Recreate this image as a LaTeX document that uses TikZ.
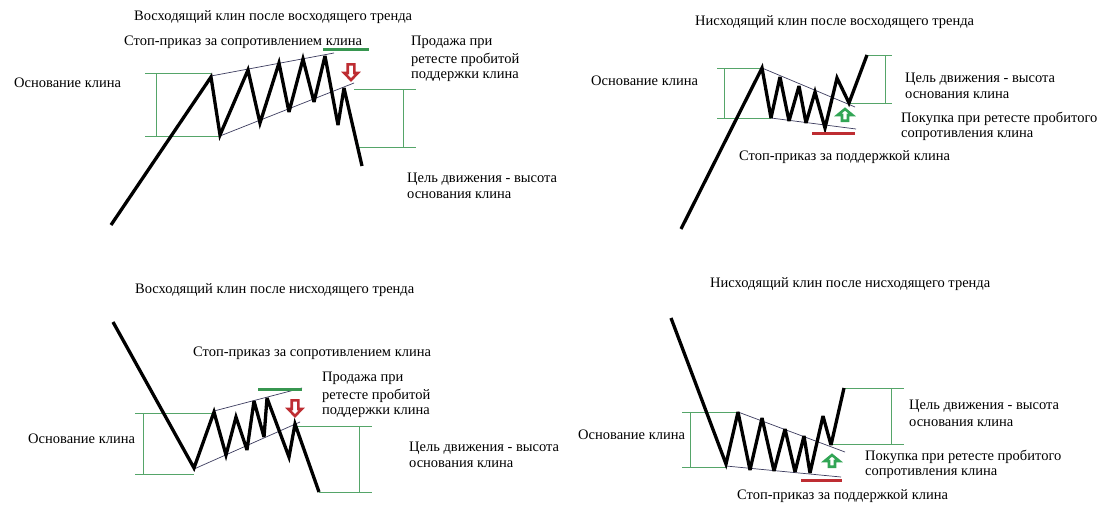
\documentclass[tikz,border=0pt]{standalone}
\usepackage{fontspec}
\setmainfont{Liberation Serif}
\definecolor{brk}{RGB}{85,165,105}
\definecolor{gbar}{RGB}{55,150,80}
\definecolor{redc}{RGB}{190,45,50}
\definecolor{wedge}{RGB}{60,60,95}
\definecolor{garr}{RGB}{50,165,85}
\tikzset{
  price/.style={line width=3.3pt, line join=miter, miter limit=4},
  wedgeline/.style={wedge, line width=0.7pt},
  bracket/.style={brk, line width=0.9pt},
  stopbar/.style={line width=3pt},
  txt/.style={inner sep=0pt, anchor=west, font=\fontsize{14.5}{16}\selectfont},
  downarr/.pic={\draw[redc, line width=2.6pt, fill=white] (-3.3,1.3) -- (3.3,1.3) -- (3.3,10) -- (6.8,10) -- (0,17) -- (-6.8,10) -- (-3.3,10) -- cycle;},
  uparr/.pic={\draw[garr, line width=2.6pt, fill=white] (0,2) -- (7.3,8) -- (3,8) -- (3,13.7) -- (-3,13.7) -- (-3,8) -- (-7.3,8) -- cycle;}
}
\begin{document}
\begin{tikzpicture}[x=1pt,y=-1pt]
\useasboundingbox (0,0) rectangle (1111,522);
\fill[white] (0,0) rectangle (1111,522);
% ---------------- Q1 ----------------
\draw[bracket] (145,73) -- (211,73) (145,136) -- (220,136) (156,73) -- (156,136);
\draw[bracket] (354,89) -- (416,89) (357,147) -- (416,147) (403,89) -- (403,147);
\draw[wedgeline] (211,76) -- (334,53);
\draw[wedgeline] (220,136) -- (354,83);
\draw[price] (111,225) -- (211,77) -- (220,135) -- (248,70) -- (260,123) -- (279,63) -- (289,112) -- (303,59) -- (314,102) -- (325,56) -- (338,125) -- (344,88) -- (362,166);
\draw[stopbar, gbar] (323,49) -- (369,49);
\pic at (351,63) {downarr};
\node[txt] (t1) at (134,17) {Восходящий клин после восходящего тренда};
\node[txt] (s1) at (124,42) {Стоп-приказ за сопротивлением клина};
\node[txt] (p1a) at (411,42) {Продажа при};
\node[txt] (p1b) at (411,60) {ретесте пробитой};
\node[txt] (p1c) at (411,77) {поддержки клина};
\node[txt] (o1) at (14,83) {Основание клина};
\node[txt] (c1a) at (407,179) {Цель движения - высота};
\node[txt] (c1b) at (407,195) {основания клина};
% ---------------- Q2 ----------------
\draw[bracket] (717,68) -- (762,68) (717,118) -- (771,118) (724,68) -- (724,118);
\draw[bracket] (867,55) -- (892,55) (849,103) -- (892,103) (885,55) -- (885,103);
\draw[wedgeline] (762,68) -- (855,107);
\draw[wedgeline] (771,118) -- (856,129);
\draw[price] (681,229) -- (762,68) -- (771,118) -- (780,77) -- (789,121) -- (799,86) -- (806,123) -- (815,92) -- (825,128) -- (837,78) -- (849,103) -- (867,55);
\draw[stopbar, redc] (812,133) -- (855,133);
\pic at (845,107) {uparr};
\node[txt] (t2) at (695,22) {Нисходящий клин после восходящего тренда};
\node[txt] (o2) at (591,81) {Основание клина};
\node[txt] (c2a) at (905,79) {Цель движения - высота};
\node[txt] (c2b) at (905,95) {основания клина};
\node[txt] (b2a) at (901,119) {Покупка при ретесте пробитого};
\node[txt] (b2b) at (901,136) {сопротивления клина};
\node[txt] (s2) at (739,157) {Стоп-приказ за поддержкой клина};
% ---------------- Q3 ----------------
\draw[bracket] (135,413) -- (214,413) (135,474) -- (194,474) (143,413) -- (143,474);
\draw[bracket] (295,426) -- (372,426) (319,492) -- (372,492) (359,426) -- (359,492);
\draw[wedgeline] (214,411) -- (302,388);
\draw[wedgeline] (194,469) -- (300,422);
\draw[price] (113,322) -- (194,468) -- (214,412) -- (226,455) -- (236,417) -- (247,450) -- (254,401) -- (264,437) -- (267,398) -- (289,457) -- (295,424) -- (319,492);
\draw[stopbar, gbar] (258,389) -- (302,389);
\pic at (295,399) {downarr};
\node[txt] (t3) at (135,290) {Восходящий клин после нисходящего тренда};
\node[txt] (s3) at (193,353) {Стоп-приказ за сопротивлением клина};
\node[txt] (p3a) at (322,378) {Продажа при};
\node[txt] (p3b) at (322,396) {ретесте пробитой};
\node[txt] (p3c) at (322,413) {поддержки клина};
\node[txt] (o3) at (28,439) {Основание клина};
\node[txt] (c3a) at (409,448) {Цель движения - высота};
\node[txt] (c3b) at (409,464) {основания клина};
% ---------------- Q4 ----------------
\draw[bracket] (682,412) -- (738,412) (682,467) -- (726,467) (690,412) -- (690,467);
\draw[bracket] (844,388) -- (904,388) (831,444) -- (904,444) (891,388) -- (891,444);
\draw[wedgeline] (738,412) -- (845,452);
\draw[wedgeline] (726,466) -- (841,477);
\draw[price] (671,318) -- (726,464) -- (738,412) -- (750,470) -- (762,418) -- (774,471) -- (785,429) -- (795,472) -- (804,436) -- (810,473) -- (823,416) -- (831,445) -- (844,388);
\draw[stopbar, redc] (801,480) -- (842,480);
\pic at (832,453) {uparr};
\node[txt] (t4) at (710,284) {Нисходящий клин после нисходящего тренда};
\node[txt] (o4) at (578,435) {Основание клина};
\node[txt] (c4a) at (909,406) {Цель движения - высота};
\node[txt] (c4b) at (909,423) {основания клина};
\node[txt] (b4a) at (865,457) {Покупка при ретесте пробитого};
\node[txt] (b4b) at (865,474) {сопротивления клина};
\node[txt] (s4) at (737,496) {Стоп-приказ за поддержкой клина};
\end{tikzpicture}
\end{document}
